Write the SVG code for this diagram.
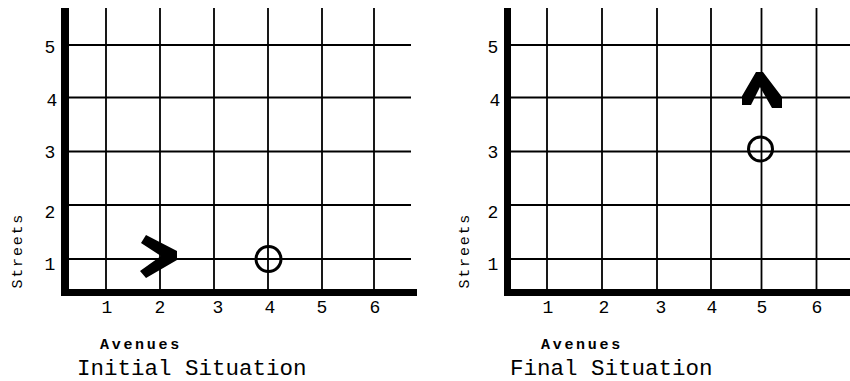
<svg xmlns="http://www.w3.org/2000/svg" width="850" height="381" viewBox="0 0 850 381">
<style>
.grid{stroke:#000;stroke-width:1.8;fill:none}
.axis{fill:#000}
.num{font-family:"Liberation Mono","Courier New",monospace;font-size:18px;fill:#000;text-anchor:middle}
.lbl{font-family:"Liberation Mono","Courier New",monospace;font-size:15px;font-weight:bold;letter-spacing:2.7px;fill:#000}
.slbl{font-family:"Liberation Mono","Courier New",monospace;font-size:15px;letter-spacing:1.8px;fill:#000}
.title{font-family:"Liberation Mono","Courier New",monospace;font-size:22.5px;fill:#000}
.beeper{fill:none;stroke:#000;stroke-width:3}
</style>
<rect width="850" height="381" fill="#fff"/>
<g id="initial">
  <g id="initial-grid">
    <path class="grid" d="M106 8V289M160 8V289M214 8V289M268 8V289M322 8V289M374 8V289"/>
    <path class="grid" d="M69 45H411M69 97.5H411M69 151.5H411M69 205H411M69 259H411"/>
    <rect class="axis" x="61" y="8" width="8" height="288"/>
    <rect class="axis" x="61" y="289" width="356" height="7"/>
  </g>
  <g id="initial-labels">
    <text class="num" x="50" y="53">5</text>
    <text class="num" x="52" y="106">4</text>
    <text class="num" x="50" y="158">3</text>
    <text class="num" x="50" y="218">2</text>
    <text class="num" x="50" y="270">1</text>
    <text class="num" x="107" y="313">1</text>
    <text class="num" x="160" y="313">2</text>
    <text class="num" x="218" y="313">3</text>
    <text class="num" x="270" y="313">4</text>
    <text class="num" x="322" y="313">5</text>
    <text class="num" x="375" y="313">6</text>
    <text class="slbl" transform="translate(22 288.5) rotate(-90)">Streets</text>
    <text class="lbl" x="100" y="349">Avenues</text>
    <text class="title" x="77" y="375">Initial Situation</text>
  </g>
  <g id="initial-robot">
    <polygon points="146,235 177,251 177,260 146,278 140,271 161,256 141,243" fill="#000"/>
  </g>
  <g id="initial-beeper">
    <circle class="beeper" cx="268.5" cy="259" r="12.5"/>
  </g>
</g>
<g id="final">
  <g id="final-grid">
    <path class="grid" d="M547 8V289M602 8V289M657 8V289M711 8V289M761.5 8V289M816.5 8V289"/>
    <path class="grid" d="M511 45H850M511 97.5H850M511 151.5H850M511 205H850M511 259H850"/>
    <rect class="axis" x="504" y="8" width="7" height="288"/>
    <rect class="axis" x="504" y="289" width="346" height="7"/>
  </g>
  <g id="final-labels">
    <text class="num" x="493" y="53">5</text>
    <text class="num" x="495" y="106">4</text>
    <text class="num" x="493" y="158">3</text>
    <text class="num" x="493" y="218">2</text>
    <text class="num" x="493" y="270">1</text>
    <text class="num" x="548" y="313">1</text>
    <text class="num" x="604" y="313">2</text>
    <text class="num" x="661" y="313">3</text>
    <text class="num" x="712" y="313">4</text>
    <text class="num" x="762" y="313">5</text>
    <text class="num" x="817" y="313">6</text>
    <text class="slbl" transform="translate(468.5 288.5) rotate(-90)">Streets</text>
    <text class="lbl" x="541" y="349">Avenues</text>
    <text class="title" x="510" y="375">Final Situation</text>
  </g>
  <g id="final-robot">
    <polygon points="756,72 763,72 782,97 782,108 772,108 760,87 751,105 742,105 742,96" fill="#000"/>
  </g>
  <g id="final-beeper">
    <circle class="beeper" cx="760.5" cy="149" r="12"/>
  </g>
</g>
</svg>
